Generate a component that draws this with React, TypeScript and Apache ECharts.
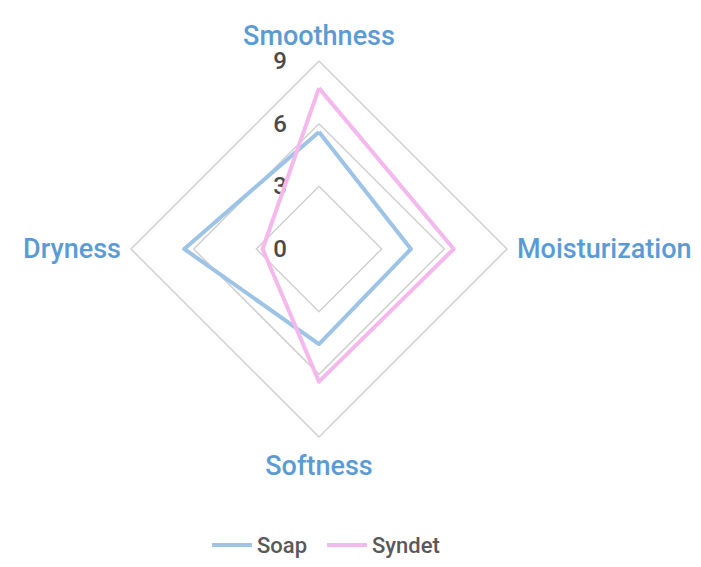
import React, { useEffect, useRef } from "react";
import * as echarts from "echarts";

// order: top, left, bottom, right (ECharts radar runs counter-clockwise)
const indicators = ["Smoothness", "Dryness", "Softness", "Moisturization"];
const maxValue = 9;
const soap = [5.6, 6.45, 4.55, 4.4];
const syndet = [7.7, 2.7, 6.35, 6.45];

const FONT = "Roboto";

export default function App() {
  const ref = useRef<HTMLDivElement>(null);
  useEffect(() => {
    const chart = echarts.init(ref.current!, null, { renderer: "svg" });
    chart.setOption({
      animation: false,
      backgroundColor: "#ffffff",
      legend: {
        bottom: 6,
        left: 207,
        itemWidth: 40,
        itemHeight: 4,
        itemGap: 20,
        icon: "rect",
        textStyle: { color: "#595959", fontSize: 22, fontFamily: FONT, fontWeight: 500 },
        data: ["Soap", "Syndet"],
      },
      radar: {
        center: [319, 249],
        radius: 188,
        startAngle: 90,
        shape: "polygon",
        splitNumber: 3,
        nameGap: 10,
        axisName: {
          color: "#5b9bd5",
          fontSize: 27,
          fontWeight: 500,
          fontFamily: FONT,
          formatter: (name: string) =>
            name === "Softness" ? `{low|${name}}` : name === "Smoothness" ? `{high|${name}}` : name,
          rich: {
            low: {
              color: "#5b9bd5",
              fontSize: 27,
              fontWeight: 500,
              fontFamily: FONT,
              padding: [5, 0, 0, 0],
            },
            high: {
              color: "#5b9bd5",
              fontSize: 27,
              fontWeight: 500,
              fontFamily: FONT,
              padding: [0, 0, 2, 0],
            },
          },
        },
        axisLine: { show: false },
        splitArea: { show: false },
        splitLine: { lineStyle: { color: "#d0d0d0", width: 1.5 } },
        axisLabel: { show: false },
        indicator: indicators.map((name, i) => ({
          name,
          min: 0,
          max: maxValue,
          ...(i === 0
            ? {
                axisLabel: {
                  show: true,
                  color: "#4a4a4a",
                  fontSize: 24,
                  lineHeight: 20,
                  fontWeight: 500,
                  fontFamily: FONT,
                  margin: 32,
                },
              }
            : {}),
        })),
      },
      series: [
        {
          type: "radar",
          symbol: "none",
          data: [
            {
              name: "Soap",
              value: soap,
              lineStyle: { color: "#9dc3e6", width: 4 },
              itemStyle: { color: "#9dc3e6" },
            },
            {
              name: "Syndet",
              value: syndet,
              lineStyle: { color: "#f5b8ec", width: 4 },
              itemStyle: { color: "#f5b8ec" },
            },
          ],
        },
      ],
    });
    return () => chart.dispose();
  }, []);
  return (
    <div
      ref={ref}
      style={{ position: "absolute", left: 0, top: 0, width: 701, height: 567 }}
    />
  );
}
